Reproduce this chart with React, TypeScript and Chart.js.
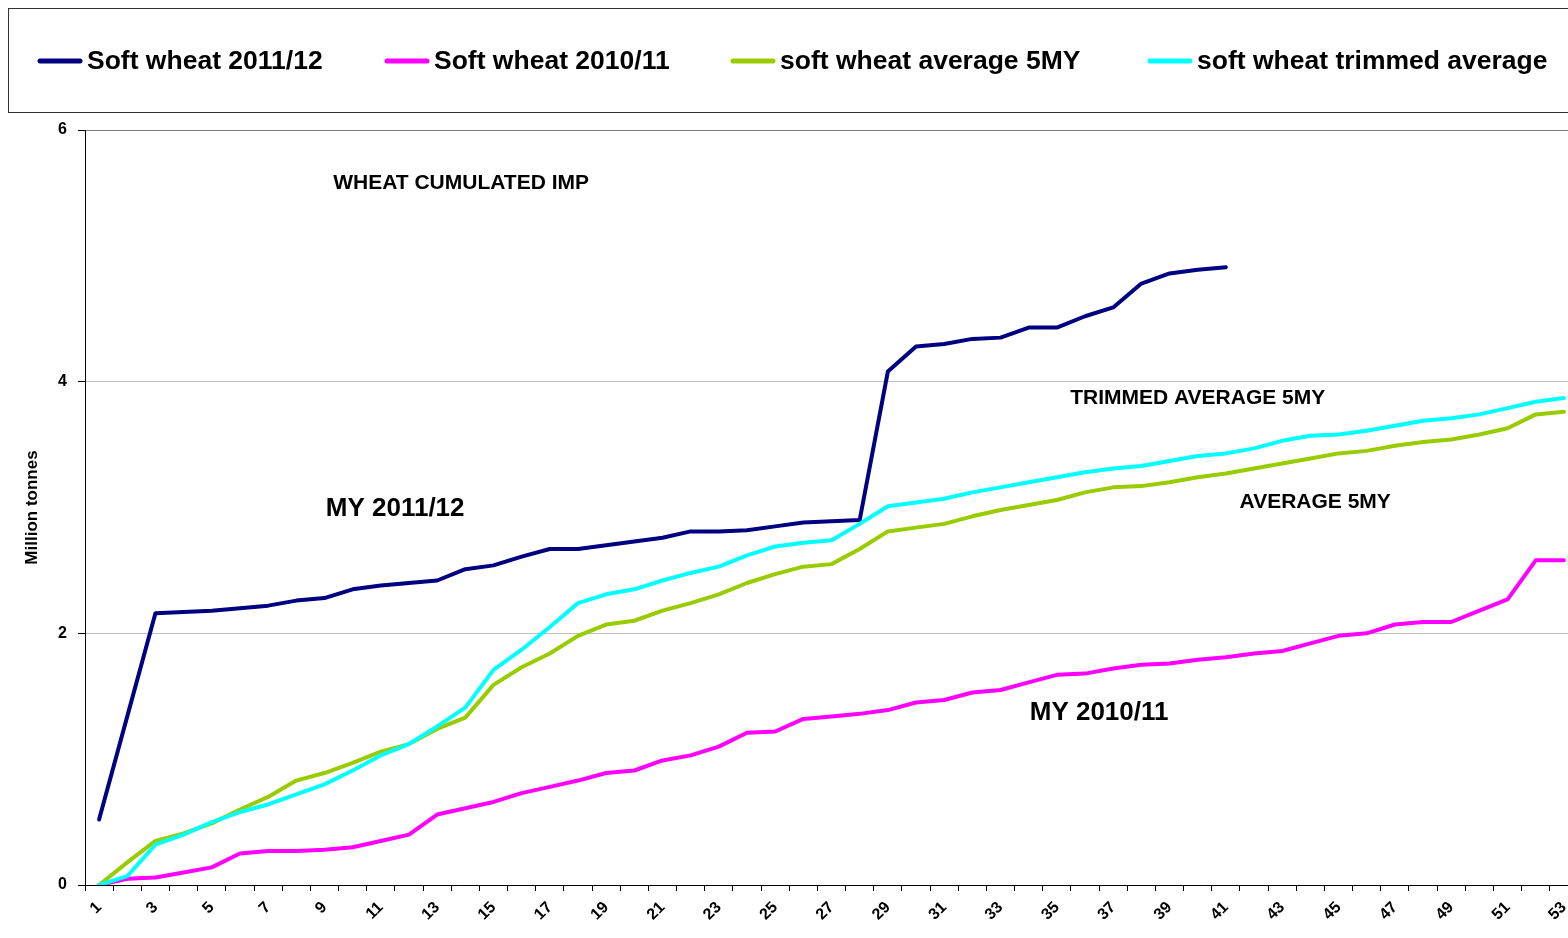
import React, { useEffect, useRef } from 'react';
import { Chart, registerables } from 'chart.js';

Chart.register(...registerables);

const FONT = '"Liberation Sans", Arial, Helvetica, sans-serif';

const weeks = [
  '1', '2', '3', '4', '5', '6', '7', '8', '9', '10',
  '11', '12', '13', '14', '15', '16', '17', '18', '19', '20',
  '21', '22', '23', '24', '25', '26', '27', '28', '29', '30',
  '31', '32', '33', '34', '35', '36', '37', '38', '39', '40',
  '41', '42', '43', '44', '45', '46', '47', '48', '49', '50',
  '51', '52', '53',
];

const softWheat2011 = [
  0.52, 1.34, 2.16, 2.17, 2.18, 2.20, 2.22, 2.26, 2.28, 2.35,
  2.38, 2.40, 2.42, 2.51, 2.54, 2.61, 2.67, 2.67, 2.70, 2.73,
  2.76, 2.81, 2.81, 2.82, 2.85, 2.88, 2.89, 2.90, 4.08, 4.28,
  4.30, 4.34, 4.35, 4.43, 4.43, 4.52, 4.59, 4.78, 4.86, 4.89,
  4.91,
];

const softWheat2010 = [
  0, 0.05, 0.06, 0.10, 0.14, 0.25, 0.27, 0.27, 0.28, 0.30,
  0.35, 0.40, 0.56, 0.61, 0.66, 0.73, 0.78, 0.83, 0.89, 0.91,
  0.99, 1.03, 1.10, 1.21, 1.22, 1.32, 1.34, 1.36, 1.39, 1.45,
  1.47, 1.53, 1.55, 1.61, 1.67, 1.68, 1.72, 1.75, 1.76, 1.79,
  1.81, 1.84, 1.86, 1.92, 1.98, 2.00, 2.07, 2.09, 2.09, 2.18,
  2.27, 2.58, 2.58,
];

const softWheatAverage = [
  0, 0.18, 0.35, 0.41, 0.49, 0.60, 0.70, 0.83, 0.89, 0.97,
  1.06, 1.12, 1.24, 1.33, 1.59, 1.73, 1.84, 1.98, 2.07, 2.10,
  2.18, 2.24, 2.31, 2.40, 2.47, 2.53, 2.55, 2.67, 2.81, 2.84,
  2.87, 2.93, 2.98, 3.02, 3.06, 3.12, 3.16, 3.17, 3.20, 3.24,
  3.27, 3.31, 3.35, 3.39, 3.43, 3.45, 3.49, 3.52, 3.54, 3.58,
  3.63, 3.74, 3.76,
];

const softWheatTrimmed = [
  0, 0.07, 0.32, 0.40, 0.50, 0.58, 0.64, 0.72, 0.80, 0.91,
  1.03, 1.12, 1.26, 1.41, 1.71, 1.87, 2.05, 2.24, 2.31, 2.35,
  2.42, 2.48, 2.53, 2.62, 2.69, 2.72, 2.74, 2.87, 3.01, 3.04,
  3.07, 3.12, 3.16, 3.20, 3.24, 3.28, 3.31, 3.33, 3.37, 3.41,
  3.43, 3.47, 3.53, 3.57, 3.58, 3.61, 3.65, 3.69, 3.71, 3.74,
  3.79, 3.84, 3.87,
];

const seriesNames = [
  'Soft wheat 2011/12',
  'Soft wheat 2010/11',
  'soft wheat average 5MY',
  'soft wheat trimmed average',
];
const seriesColors = ['#000080', '#FF00FF', '#99CC00', '#00FFFF'];

const yMin = 0;
const yMax = 6;
const yStep = 2;
const yTitle = 'Million tonnes';

// text notes placed in data coordinates (category index, value)
const noteTexts = ['WHEAT CUMULATED IMP', 'MY 2011/12', 'TRIMMED AVERAGE 5MY', 'AVERAGE 5MY', 'MY 2010/11'];
const noteX = [12.85, 10.51, 39.0, 43.17, 35.5];
const noteY = [5.58, 2.99, 3.87, 3.04, 1.37];
const noteSize = [21, 26, 21, 21, 26];

const boxLegendPlugin = {
  id: 'boxLegend',
  afterDraw(chart: any, _args: any, opts: any) {
    const ctx = chart.ctx;
    ctx.save();
    ctx.strokeStyle = opts.borderColor;
    ctx.lineWidth = 1;
    ctx.strokeRect(opts.left + 0.5, opts.top + 0.5, chart.width - opts.left - 8, opts.height);
    const y = opts.top + opts.height / 2 + 1;
    chart.data.datasets.forEach((ds: any, i: number) => {
      const x = opts.itemX[i];
      ctx.strokeStyle = ds.borderColor;
      ctx.lineWidth = 5;
      ctx.lineCap = 'round';
      ctx.beginPath();
      ctx.moveTo(x, y);
      ctx.lineTo(x + opts.lineLength, y);
      ctx.stroke();
      ctx.fillStyle = '#000';
      ctx.font = `bold ${opts.fontSize}px ${FONT}`;
      ctx.textAlign = 'left';
      ctx.textBaseline = 'middle';
      ctx.fillText(ds.label, x + opts.lineLength + opts.textGap, y + 1);
    });
    ctx.restore();
  },
};

const notesPlugin = {
  id: 'notes',
  afterDatasetsDraw(chart: any) {
    const ctx = chart.ctx;
    const xs = chart.scales.x;
    const ys = chart.scales.y;
    ctx.save();
    ctx.fillStyle = '#000';
    ctx.textAlign = 'center';
    ctx.textBaseline = 'middle';
    noteTexts.forEach((t, i) => {
      ctx.font = `bold ${noteSize[i]}px ${FONT}`;
      ctx.fillText(t, xs.getPixelForValue(noteX[i]), ys.getPixelForValue(noteY[i]));
    });
    ctx.restore();
  },
};

export default function App() {
  const ref = useRef<HTMLCanvasElement>(null);

  useEffect(() => {
    if (!ref.current) return;
    const data = [softWheat2011, softWheat2010, softWheatAverage, softWheatTrimmed];
    const orders = [3, 2, 1, 0];
    const chart = new Chart(ref.current, {
      type: 'line',
      data: {
        labels: weeks,
        datasets: data.map((d, i) => ({
          label: seriesNames[i],
          data: d,
          borderColor: seriesColors[i],
          backgroundColor: seriesColors[i],
          borderWidth: 4,
          pointRadius: 0,
          tension: 0,
          fill: false,
          borderCapStyle: 'round' as const,
          borderJoinStyle: 'round' as const,
          order: orders[i],
        })),
      },
      options: {
        responsive: false,
        animation: false,
        devicePixelRatio: 1,
        events: [],
        layout: { padding: { top: 130, left: 0, right: 22, bottom: 0 } },
        plugins: {
          legend: { display: false },
          tooltip: { enabled: false },
          boxLegend: {
            left: 8,
            top: 8,
            height: 104,
            borderColor: '#333333',
            itemX: [40, 387, 733, 1150],
            lineLength: 40,
            textGap: 7,
            fontSize: 26.5,
          },
        } as any,
        scales: {
          x: {
            type: 'category',
            offset: true,
            afterFit(scale: any) {
              scale.height = 53;
            },
            grid: {
              offset: true,
              drawOnChartArea: false,
              drawTicks: true,
              tickLength: 6,
              tickColor: '#000',
            },
            border: { display: true, color: '#000', width: 1 },
            ticks: {
              autoSkip: false,
              maxRotation: 45,
              minRotation: 45,
              padding: 7,
              color: '#000',
              font: { family: FONT, size: 16, weight: 'bold' },
              callback: (_v: any, idx: number) => (idx % 2 === 0 ? weeks[idx] : ''),
            },
          },
          y: {
            min: yMin,
            max: yMax,
            afterFit(scale: any) {
              scale.width = 85;
            },
            grid: {
              color: (c: any) => (c.tick && c.tick.value === yMax ? '#808080' : '#C0C0C0'),
              drawTicks: true,
              tickLength: 7,
              tickColor: '#000',
            },
            border: { display: true, color: '#000', width: 1 },
            ticks: {
              stepSize: yStep,
              padding: 11,
              color: '#000',
              font: { family: FONT, size: 16, weight: 'bold' },
            },
            title: {
              display: true,
              text: yTitle,
              color: '#000',
              font: { family: FONT, size: 17, weight: 'bold' },
              padding: { top: 22, bottom: 0 },
            },
          },
        },
      },
      plugins: [boxLegendPlugin, notesPlugin],
    } as any);
    return () => chart.destroy();
  }, []);

  return (
    <div
      style={{
        position: 'fixed',
        left: 0,
        top: 0,
        width: 1568,
        height: 938,
        overflow: 'hidden',
        background: '#fff',
      }}
    >
      <canvas ref={ref} width={1600} height={938} style={{ display: 'block' }} />
    </div>
  );
}
